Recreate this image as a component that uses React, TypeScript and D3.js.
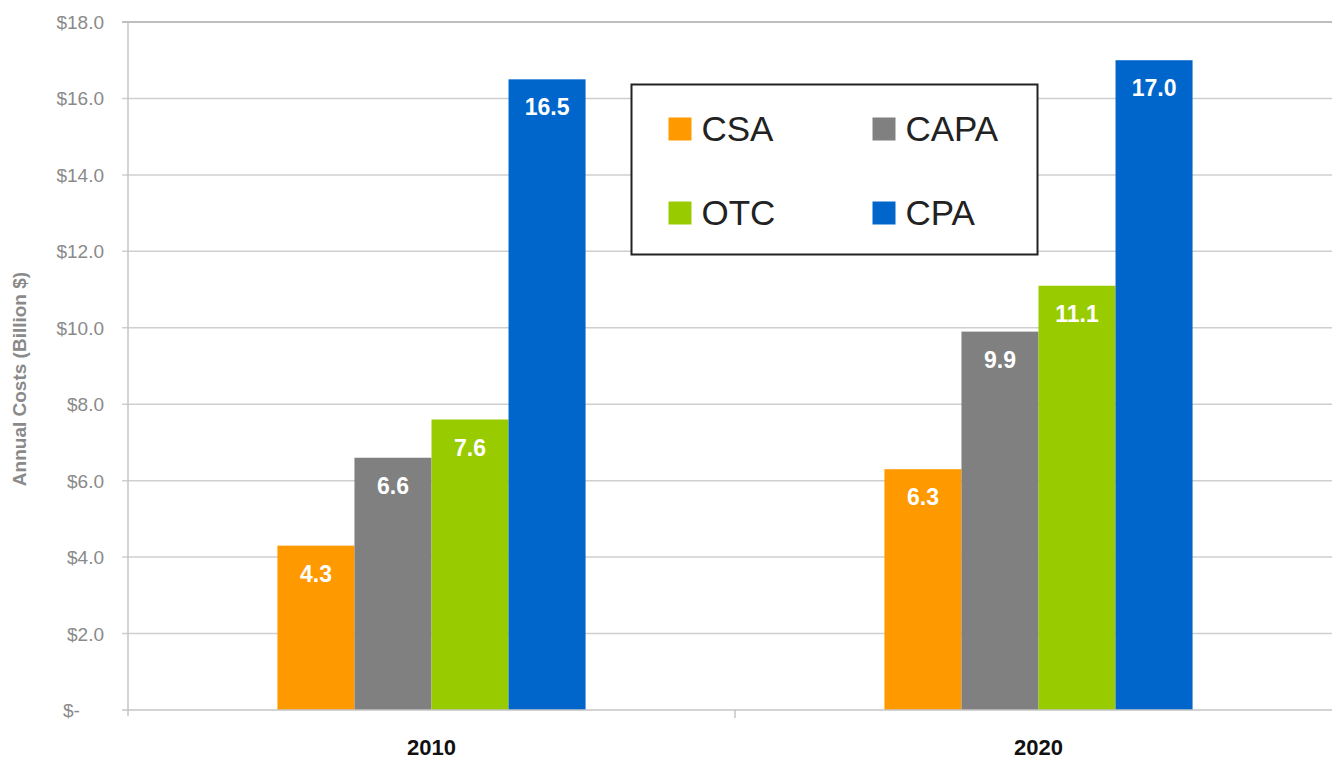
import React, { useEffect, useRef } from 'react';
import * as d3 from 'd3';

const years = ['2010', '2020'];
const seriesNames = ['CSA', 'CAPA', 'OTC', 'CPA'];
const seriesColors = ['#ff9900', '#808080', '#99cc00', '#0066cc'];
const csaValues = [4.3, 6.3];
const capaValues = [6.6, 9.9];
const otcValues = [7.6, 11.1];
const cpaValues = [16.5, 17.0];
const yTicks = [0, 2, 4, 6, 8, 10, 12, 14, 16, 18];

const App = () => {
  const svgRef = useRef<SVGSVGElement>(null);

  useEffect(() => {
    const svg = d3.select(svgRef.current);
    svg.selectAll('*').remove();

    const width = 1332;
    const height = 759;
    const margin = { top: 22, left: 128, bottom: 49 };
    const plotRight = 1342;
    const innerHeight = height - margin.top - margin.bottom;
    const font = '"Liberation Sans", Arial, sans-serif';

    const seriesValues = [csaValues, capaValues, otcValues, cpaValues];

    const x = d3.scaleBand().domain(years).range([margin.left, plotRight]).paddingInner(0).paddingOuter(0);
    // bars sit together in the middle of each category
    const xInner = d3.scaleBand().domain(seriesNames).range([0, x.bandwidth()]).paddingOuter(1.94).paddingInner(0);
    const y = d3.scaleLinear().domain([0, 18]).range([margin.top + innerHeight, margin.top]);

    svg.attr('width', width).attr('height', height);
    svg.append('rect').attr('width', width).attr('height', height).attr('fill', '#fff');

    // grid lines
    svg.append('g')
      .selectAll('line')
      .data(yTicks.filter(t => t > 0))
      .enter().append('line')
      .attr('x1', margin.left - 6)
      .attr('x2', plotRight)
      .attr('y1', d => y(d))
      .attr('y2', d => y(d))
      .attr('stroke', d => (d === 18 ? '#a8a8a8' : '#cfcfcf'))
      .attr('stroke-width', 1.5);

    // y axis labels
    svg.append('g')
      .selectAll('text')
      .data(yTicks)
      .enter().append('text')
      .attr('x', d => (d === 0 ? 63 : 104))
      .attr('y', d => y(d) + 7)
      .attr('text-anchor', d => (d === 0 ? 'start' : 'end'))
      .style('font-family', font)
      .style('font-size', '19px')
      .style('fill', '#8a8a8a')
      .text(d => (d === 0 ? '$-' : `$${d.toFixed(1)}`));

    // axis title
    svg.append('text')
      .attr('transform', `translate(26,${379}) rotate(-90)`)
      .attr('text-anchor', 'middle')
      .style('font-family', font)
      .style('font-size', '19px')
      .style('font-weight', 'bold')
      .style('fill', '#8a8a8a')
      .text('Annual Costs (Billion $)');

    // bars
    seriesNames.forEach((name, si) => {
      const g = svg.append('g');
      g.selectAll('rect')
        .data(years)
        .enter().append('rect')
        .attr('x', (d) => (x(d) as number) + (xInner(name) as number))
        .attr('width', xInner.bandwidth())
        .attr('y', (d, i) => y(seriesValues[si][i]))
        .attr('height', (d, i) => y(0) - y(seriesValues[si][i]))
        .attr('fill', seriesColors[si]);
      g.selectAll('text')
        .data(years)
        .enter().append('text')
        .attr('x', (d) => (x(d) as number) + (xInner(name) as number) + xInner.bandwidth() / 2)
        .attr('y', (d, i) => y(seriesValues[si][i]) + 36)
        .attr('text-anchor', 'middle')
        .style('font-family', font)
        .style('font-size', '23px')
        .style('font-weight', 'bold')
        .style('fill', '#fff')
        .text((d, i) => seriesValues[si][i].toFixed(1));
    });

    // axes lines
    svg.append('line')
      .attr('x1', margin.left).attr('x2', margin.left)
      .attr('y1', margin.top).attr('y2', y(0) + 6)
      .attr('stroke', '#c4c4c4').attr('stroke-width', 1.5);
    svg.append('line')
      .attr('x1', margin.left - 6).attr('x2', plotRight)
      .attr('y1', y(0)).attr('y2', y(0))
      .attr('stroke', '#c4c4c4').attr('stroke-width', 1.5);
    svg.append('g')
      .selectAll('line')
      .data(years.slice(1))
      .enter().append('line')
      .attr('x1', d => x(d) as number).attr('x2', d => x(d) as number)
      .attr('y1', y(0)).attr('y2', y(0) + 8)
      .attr('stroke', '#c4c4c4').attr('stroke-width', 1.5);

    // x labels
    svg.append('g')
      .selectAll('text')
      .data(years)
      .enter().append('text')
      .attr('x', d => (x(d) as number) + x.bandwidth() / 2)
      .attr('y', 755)
      .attr('text-anchor', 'middle')
      .style('font-family', font)
      .style('font-size', '22px')
      .style('font-weight', 'bold')
      .style('fill', '#111')
      .text(d => d);

    // legend
    const legend = svg.append('g').attr('transform', 'translate(631.5,84.5)');
    legend.append('rect')
      .attr('width', 406).attr('height', 170)
      .attr('fill', '#fff').attr('stroke', '#222').attr('stroke-width', 2);
    seriesNames.forEach((name, i) => {
      const lx = 37 + (i % 2) * 204;
      const ly = 33 + Math.floor(i / 2) * 84;
      legend.append('rect')
        .attr('x', lx).attr('y', ly)
        .attr('width', 23).attr('height', 23)
        .attr('fill', seriesColors[i]);
      legend.append('text')
        .attr('x', lx + 33).attr('y', ly + 23)
        .style('font-family', font)
        .style('font-size', '35px')
        .style('fill', '#222')
        .text(name);
    });
  }, []);

  return (
    <div style={{ position: 'absolute', left: 0, top: 0 }}>
      <svg ref={svgRef} style={{ display: 'block' }}></svg>
    </div>
  );
};

export default App;
